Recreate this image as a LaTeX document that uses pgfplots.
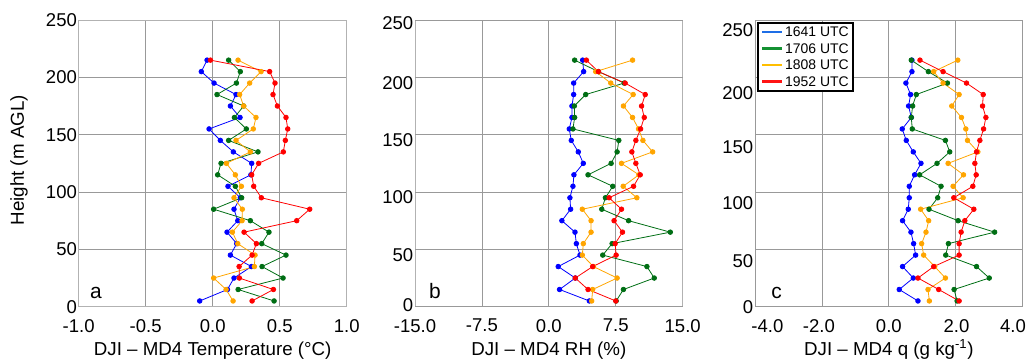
\documentclass[border=0pt]{standalone}
\usepackage{fontspec}
\setmainfont{Liberation Sans}
\usepackage{pgfplots}
\pgfplotsset{compat=1.18}
\usepackage{pgfplotstable}

% series colours (markers and lines)
\definecolor{sblue}{RGB}{0,0,255}
\definecolor{sgreen}{RGB}{0,110,20}
\definecolor{sorange}{RGB}{255,165,0}
\definecolor{sred}{RGB}{255,0,0}
% legend swatch colours
\definecolor{lblue}{RGB}{30,110,230}
\definecolor{lgreen}{RGB}{20,145,50}
\definecolor{lorange}{RGB}{255,190,0}
\definecolor{lred}{RGB}{255,20,20}

% DJI - MD4 temperature difference (degC): h = height (m AGL); b = 1641, g = 1706, o = 1808, r = 1952 UTC
\pgfplotstableread{
h   b      g      o      r
5   -0.097 0.458  0.152  0.294
15  0.110  0.190  0.100  0.453
25  0.159  0.525  0.007  0.199
35  0.289  0.368  0.311  0.197
45  0.132  0.547  0.316  0.294
55  0.179  0.366  0.187  0.326
65  0.107  0.420  0.147  0.234
75  0.187  0.281  0.219  0.627
85  0.159  0.007  0.221  0.724
95  0.206  0.216  0.159  0.363
105 0.114  0.169  0.214  0.306
115 0.285  0.037  0.169  0.291
125 0.291  0.062  0.102  0.343
135 0.154  0.338  0.281  0.527
145 0.057  0.119  0.174  0.542
155 -0.027 0.251  0.303  0.560
165 0.204  0.162  0.323  0.547
175 0.132  0.231  0.231  0.483
185 0.174  0.032  0.201  0.450
195 0.010  0.177  0.276  0.465
205 -0.085 0.206  0.361  0.425
215 -0.042 0.119  0.189  -0.017
}\dataT

% DJI - MD4 relative humidity difference (%)
\pgfplotstableread{
h   b     g      o      r
5   4.54  7.54   4.80   7.50
15  1.20  8.36   4.91   4.39
25  2.96  11.81  7.65   2.96
35  1.05  10.99  4.99   4.91
45  3.49  6.04   3.75   7.54
55  3.08  7.09   3.86   7.43
65  2.93  13.61  4.73   8.25
75  1.46  8.93   4.73   7.31
85  2.44  5.93   3.75   8.14
95  2.36  6.34   9.86   6.75
105 2.70  7.16   8.33   9.49
115 2.81  4.39   10.09  10.24
125 3.86  6.98   8.14   9.75
135 3.30  7.65   11.63  9.30
145 2.51  7.84   10.54  9.75
155 2.29  2.70   10.05  10.28
165 2.59  2.89   9.38   10.69
175 2.59  2.85   8.36   10.39
185 2.78  4.13   9.45   10.80
195 2.78  8.44   6.94   8.55
205 3.90  5.55   5.25   5.55
215 3.79  2.89   9.38   4.20
}\dataRH

% DJI - MD4 specific humidity difference (g/kg)
\pgfplotstableread{
h   b     g     o     r
5   0.87  2.04  1.21  2.10
15  0.31  1.95  1.17  1.49
25  0.73  3.00  1.69  0.87
35  0.41  2.62  1.37  1.34
45  0.80  1.70  1.04  2.10
55  0.74  1.78  0.98  2.10
65  0.66  3.16  1.11  2.16
75  0.41  2.07  1.19  2.27
85  0.58  1.20  0.95  2.54
95  0.61  1.46  2.22  1.94
105 0.61  1.56  1.92  2.51
115 0.77  0.92  2.23  2.61
125 0.96  1.44  1.77  2.57
135 0.73  1.82  2.66  2.62
145 0.52  1.69  2.35  2.72
155 0.40  0.70  2.30  2.83
165 0.67  0.67  2.17  2.90
175 0.59  0.71  1.88  2.80
185 0.65  0.82  2.10  2.82
195 0.51  1.75  1.62  2.32
205 0.69  1.18  1.34  1.62
215 0.69  0.67  2.06  0.93
}\dataQ

\pgfplotsset{
  panel/.style={
    scale only axis, width=268bp, height=286.7bp,
    anchor=south west,
    ymin=0, ymax=250,
    grid=major,
    major grid style={draw=black!40, line width=0.8bp},
    axis line style={draw=black!30, line width=0.8bp},
    major tick length=0pt,
    tick label style={font=\fontsize{18.6}{20}\selectfont},
    xticklabel style={yshift=-9bp},
    yticklabel style={xshift=1.7bp},
    label style={font=\fontsize{18.8}{22}\selectfont},
    xlabel style={at={(axis description cs:0.5,-0.1685)}, anchor=base},
    clip=false,
  },
  ser/.style={color=#1, line width=0.8bp, mark=*, mark size=2.3bp,
    mark options={solid, fill=#1, draw=#1}},
  legline/.style={color=#1, line width=2.6bp},
}
\tikzset{
  panellabel/.style={anchor=base west, inner sep=0pt, font=\fontsize{21}{24}\selectfont},
}

\begin{document}
\begin{tikzpicture}
\useasboundingbox (0bp,0bp) rectangle (1032bp,364bp);

% (a) temperature
\begin{axis}[panel, at={(78.7bp,57.3bp)},
  xmin=-1, xmax=1, xtick={-1,-0.5,0,0.5,1},
  xticklabels={-1.0,-0.5,0.0,0.5,1.0},
  ytick={0,50,100,150,200,250}, yticklabels={0,50,100,150,200,250},
  xlabel={DJI – MD4 Temperature (°C)},
  ylabel={Height (m AGL)},
  ylabel style={at={(axis description cs:-0.2228,0.5106)}, anchor=center},
]
\addplot[ser=sblue]   table[x=b, y=h] {\dataT};
\addplot[ser=sgreen]  table[x=g, y=h] {\dataT};
\addplot[ser=sorange] table[x=o, y=h] {\dataT};
\addplot[ser=sred]    table[x=r, y=h] {\dataT};
\node[panellabel] at (rel axis cs:0.042,0.030) {a};
\end{axis}

% (b) relative humidity
\begin{axis}[panel, at={(415bp,57.3bp)}, width=267.7bp,
  xmin=-15, xmax=15, xtick={-15,-7.5,0,7.5,15},
  xticklabels={-15.0,-7.5,0.0,7.5,15.0},
  ytick={1.5,45.1,95.3,145.6,194.8,247.3}, yticklabels={0,50,100,150,200,250},
  ymajorgrids=false,
  extra y ticks={0,50,100,150,200,250}, extra y tick labels={},
  extra y tick style={grid=major},
  xlabel={DJI – MD4 RH (\%)},
]
\addplot[ser=sblue]   table[x=b, y=h] {\dataRH};
\addplot[ser=sgreen]  table[x=g, y=h] {\dataRH};
\addplot[ser=sorange] table[x=o, y=h] {\dataRH};
\addplot[ser=sred]    table[x=r, y=h] {\dataRH};
\node[panellabel] at (rel axis cs:0.052,0.030) {b};
\end{axis}

% (c) specific humidity
\begin{axis}[panel, at={(755bp,57.3bp)}, width=267.7bp,
  xmin=-4, xmax=4, xtick={-3.63,-2.09,0,2.02,3.71},
  xticklabels={-4.0,-2.0,0.0,2.0,4.0},
  xmajorgrids=false,
  extra x ticks={-4,-2,0,2,4}, extra x tick labels={},
  extra x tick style={grid=major},
  ytick={0,39.8,90.1,139.5,186.6,240.8}, yticklabels={0,50,100,150,200,250},
  ymajorgrids=false,
  extra y ticks={0,50,100,150,200,250}, extra y tick labels={},
  extra y tick style={grid=major},
  xlabel={DJI – MD4 q (g kg\textsuperscript{-1})},
  legend image code/.code={\draw[#1] (0bp,0bp) -- (20bp,0bp);},
  legend cell align=left,
  legend style={at={(axis description cs:0.009,0.992)}, anchor=north west,
    draw=black, line width=1.8bp, fill=white,
    font=\fontsize{14}{16}\selectfont,
    inner xsep=2.5bp, inner ysep=2bp, row sep=2.5bp,
    nodes={inner sep=1.8bp, text height=10bp, text depth=0.4bp}},
]
\addplot[ser=sblue, forget plot]   table[x=b, y=h] {\dataQ};
\addplot[ser=sgreen, forget plot]  table[x=g, y=h] {\dataQ};
\addplot[ser=sorange, forget plot] table[x=o, y=h] {\dataQ};
\addplot[ser=sred, forget plot]    table[x=r, y=h] {\dataQ};
\addlegendimage{legline=lblue}   \addlegendentry{1641 UTC}
\addlegendimage{legline=lgreen}  \addlegendentry{1706 UTC}
\addlegendimage{legline=lorange} \addlegendentry{1808 UTC}
\addlegendimage{legline=lred}    \addlegendentry{1952 UTC}
\node[panellabel] at (rel axis cs:0.06,0.030) {c};
\end{axis}
\end{tikzpicture}
\end{document}
